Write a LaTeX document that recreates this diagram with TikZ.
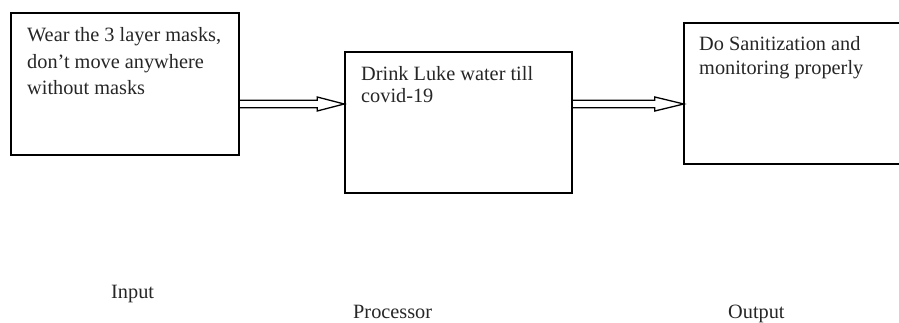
\documentclass[tikz,border=0pt]{standalone}
\usepackage{fontspec}
\setmainfont{Liberation Serif}
\usetikzlibrary{calc}
\begin{document}
\begin{tikzpicture}[x=1pt,y=-1pt,
  boxstyle/.style={draw=black,inner sep=0pt,minimum width=#1},
  txt/.style={anchor=base west,inner sep=0pt,align=left,text=black!85},
  arr/.style={draw=black,line width=1.3pt,line join=miter},
  lbl/.style={anchor=base west,inner sep=0pt,text=black!85,font=\fontsize{20.3}{22}\selectfont}]
\useasboundingbox (0,0) rectangle (899,323);
% boxes
\node[boxstyle=228pt,minimum height=142pt,line width=2.2pt] (b1) at (125,84) {};
\node[boxstyle=227pt,minimum height=141pt,line width=1.6pt] (b2) at (458.5,122.5) {};
\node[inner sep=0pt,minimum width=216pt,minimum height=141pt] (b3) at (792,93.5) {};
\draw[line width=1.6pt] (b3.north east) -- (b3.north west) -- (b3.south west) -- (b3.south east);
% texts (anchored at the baseline of their last line)
\node[txt,font=\fontsize{20.3}{26.5}\selectfont] (t1) at (27,95) {Wear the 3 layer masks,\\don’t move anywhere\\without masks};
\node[txt,font=\fontsize{20.3}{22}\selectfont] (t2) at (361,103) {Drink Luke water till\\covid-19};
\node[txt,font=\fontsize{20.3}{24}\selectfont] (t3) at (699,75) {Do Sanitization and\\monitoring properly};
% labels
\node[lbl] (l1) at (111,298) {Input};
\node[lbl] (l2) at (353,318) {Processor};
\node[lbl] (l3) at (728,318) {Output};
% arrows
\coordinate (ya) at (0,104);
\draw[arr] ($(b1.east |- ya)+(0,-3.8)$) -- ($(b2.west |- ya)+(-27,-3.8)$) -- ++(0,-3.2)
  -- (b2.west |- ya) -- ($(b2.west |- ya)+(-27,7)$) -- ++(0,-3.2) -- ($(b1.east |- ya)+(0,3.8)$);
\draw[arr] ($(b2.east |- ya)+(0,-3.8)$) -- ($(b3.west |- ya)+(-29,-3.8)$) -- ++(0,-3.2)
  -- (b3.west |- ya) -- ($(b3.west |- ya)+(-29,7)$) -- ++(0,-3.2) -- ($(b2.east |- ya)+(0,3.8)$);
\end{tikzpicture}
\end{document}
